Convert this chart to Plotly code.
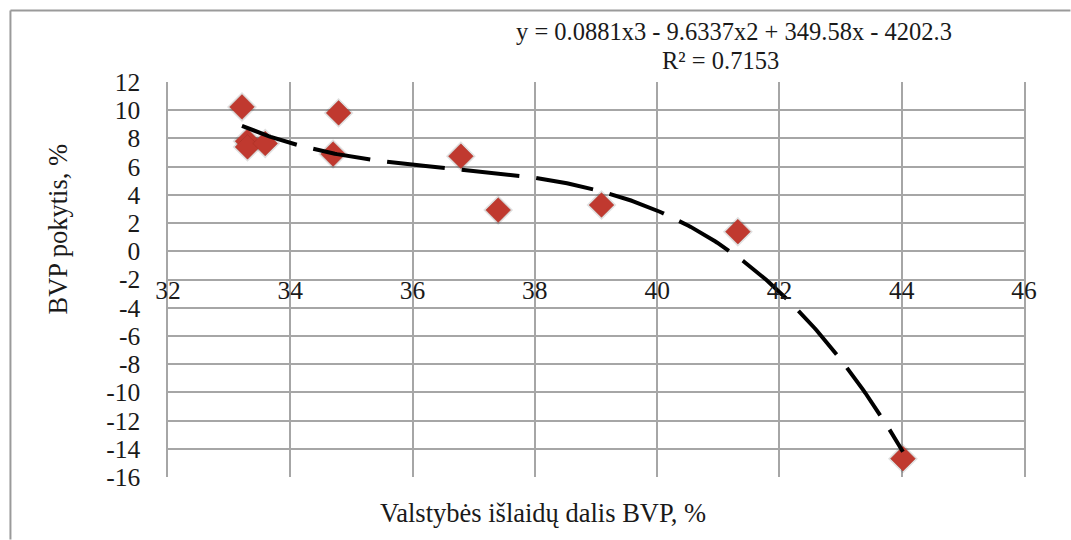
import numpy as np
import plotly.graph_objects as go

# Data
gov_spending_share = [33.21, 33.30, 33.30, 33.59, 34.70, 34.79, 36.79, 37.40, 39.09, 41.32, 44.02]
gdp_change = [10.23, 7.80, 7.40, 7.64, 6.89, 9.81, 6.74, 2.92, 3.28, 1.39, -14.70]

x_ticks = [32, 34, 36, 38, 40, 42, 44, 46]
y_ticks = [12, 10, 8, 6, 4, 2, 0, -2, -4, -6, -8, -10, -12, -14, -16]
y_tick_labels = ["12", "10", "8", "6", "4", "2", "0", "-2", "-4", "-6", "-8", "-10", "-12", "-14", "-16"]

equation_text = "y = 0.0881x3 - 9.6337x2 + 349.58x - 4202.3"
r2_text = "R² = 0.7153"
x_title = "Valstybės išlaidų dalis BVP, %"
y_title = "BVP pokytis, %"

# Polynomial (order 3) trendline fitted to the data
coef = np.polyfit(gov_spending_share, gdp_change, 3)
xs = np.linspace(min(gov_spending_share), max(gov_spending_share), 300)
ys = np.polyval(coef, xs)

FONT = "Liberation Serif"
GRID = "#a6a6a6"

fig = go.Figure()
# soft shadow behind the markers
fig.add_trace(go.Scatter(
    x=gov_spending_share, y=gdp_change, mode="markers",
    marker=dict(symbol="diamond", size=23, color="rgba(0,0,0,0.12)",
                line=dict(width=0)),
    showlegend=False, hoverinfo="skip"))
fig.add_trace(go.Scatter(
    x=gov_spending_share, y=gdp_change, mode="markers",
    marker=dict(symbol="diamond", size=19, color="#c0392f",
                line=dict(color="#a93226", width=0.5)),
    showlegend=False, hoverinfo="x+y"))
fig.add_trace(go.Scatter(
    x=xs, y=ys, mode="lines",
    line=dict(color="black", width=4, dash="58px,17px"),
    showlegend=False, hoverinfo="skip"))

L, R, T, B = 167.7, 1024.5, 81.7, 477.3
W, H = 1071, 540
pw, ph = R - L, B - T

def px_x(p):
    return (p - L) / pw

def px_y(p):
    return (B - p) / ph

zero_pos = 16 / 28

fig.update_layout(
    width=W, height=H,
    margin=dict(l=L, r=W - R, t=T, b=H - B, pad=0),
    paper_bgcolor="white", plot_bgcolor="white",
    font=dict(family=FONT, size=25, color="#1a1a1a"),
    xaxis=dict(range=[32, 46], tickvals=x_ticks, showgrid=True, gridcolor=GRID,
               gridwidth=1.5, zeroline=False, showline=False,
               anchor="free", position=zero_pos, ticks="",
               ticklabelstandoff=21, tickfont=dict(size=25.5)),
    yaxis=dict(range=[-16, 12], tickvals=y_ticks, ticktext=y_tick_labels,
               showgrid=True, gridcolor=GRID,
               gridwidth=1.5, zeroline=False, showline=True, linecolor=GRID,
               linewidth=1.5, mirror=True, ticks="", ticklabelstandoff=21,
               tickfont=dict(size=25.5)),
    shapes=[
        dict(type="line", xref="paper", yref="paper", x0=px_x(10), x1=px_x(1071),
             y0=px_y(10), y1=px_y(10), line=dict(color="#9a9a9a", width=2)),
        dict(type="line", xref="paper", yref="paper", x0=px_x(10), x1=px_x(10),
             y0=px_y(10), y1=px_y(540), line=dict(color="#9a9a9a", width=2)),
    ],
    annotations=[
        dict(text=equation_text, xref="paper", yref="paper", x=px_x(734), y=px_y(31),
             showarrow=False, xanchor="center", yanchor="middle", font=dict(size=24.5)),
        dict(text=r2_text, xref="paper", yref="paper", x=px_x(721), y=px_y(60),
             showarrow=False, xanchor="center", yanchor="middle", font=dict(size=24.5)),
        dict(text=x_title, xref="paper", yref="paper", x=px_x(543), y=px_y(513),
             showarrow=False, xanchor="center", yanchor="middle", font=dict(size=26.5)),
        dict(text=y_title, xref="paper", yref="paper", x=px_x(58), y=px_y(229),
             showarrow=False, xanchor="center", yanchor="middle", textangle=-90,
             font=dict(size=26.5)),
    ],
)

fig.write_html("out.html")
